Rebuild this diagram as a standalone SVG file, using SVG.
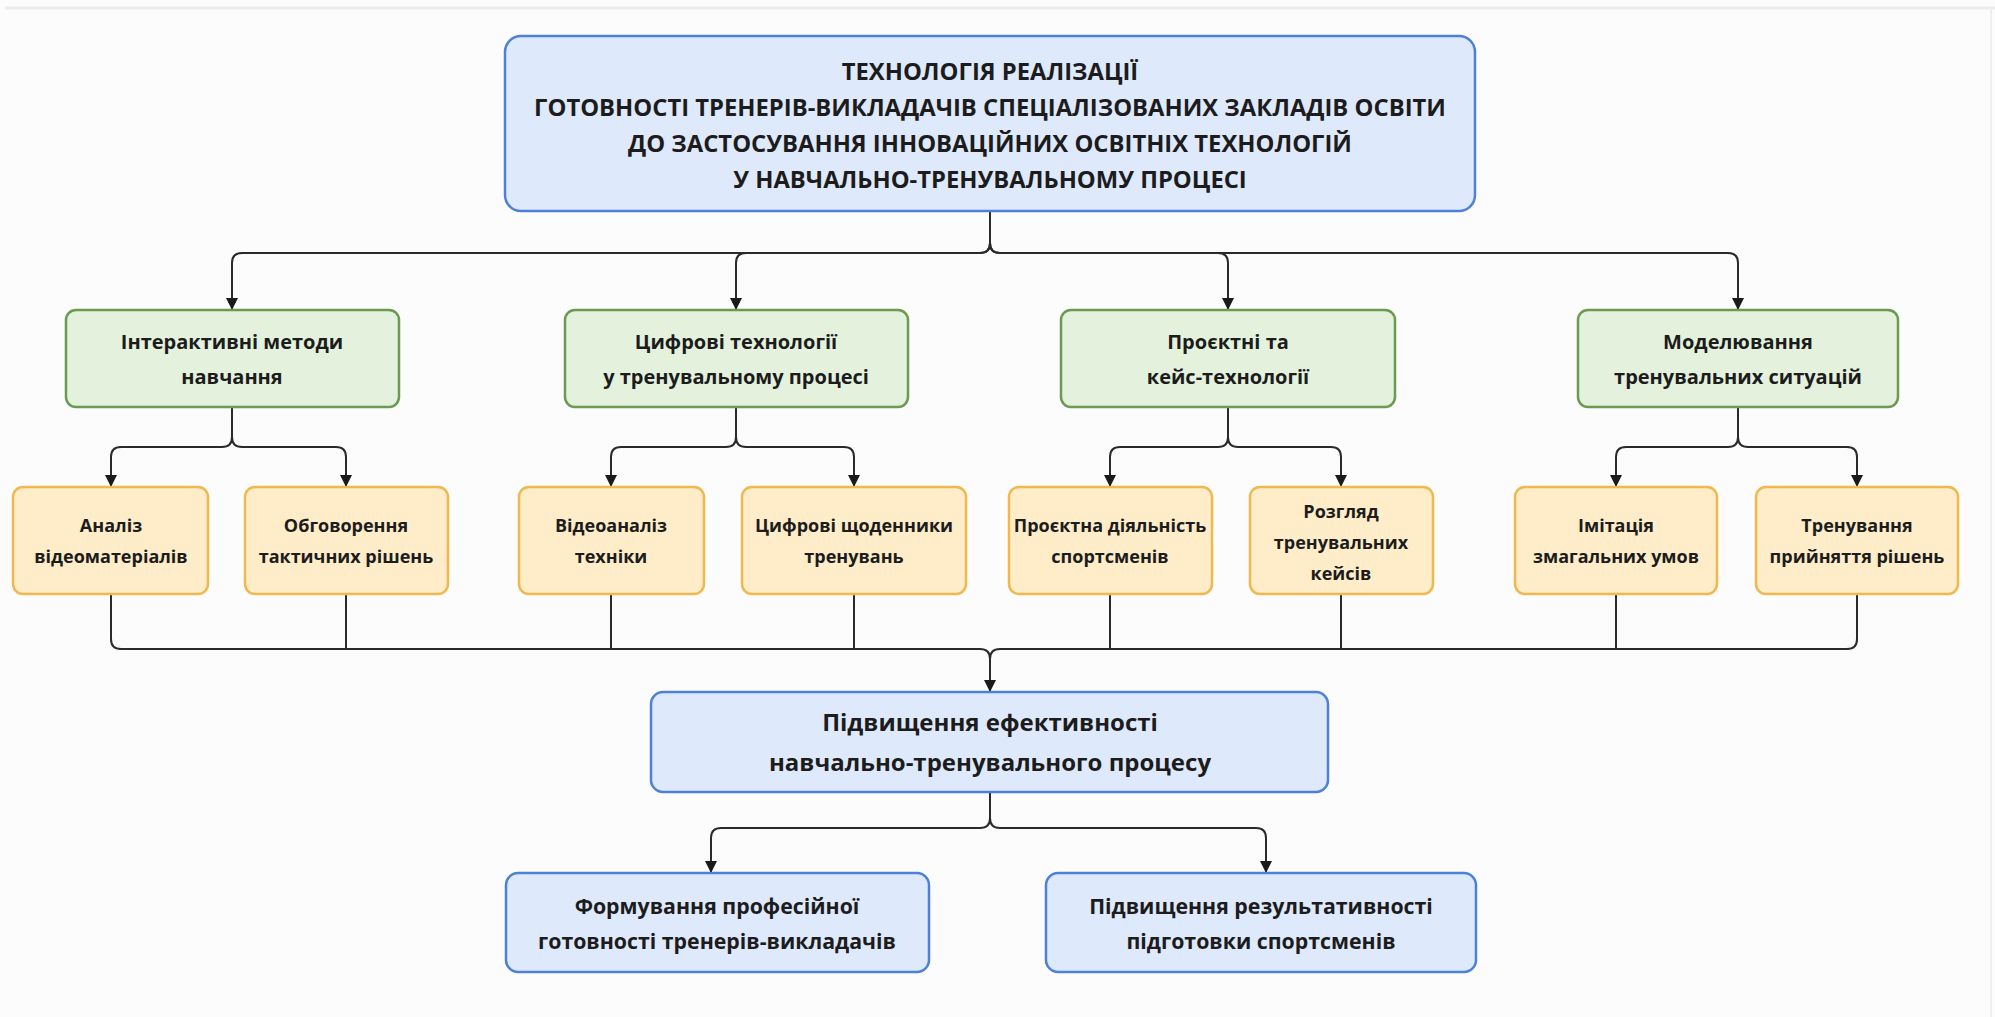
<svg xmlns="http://www.w3.org/2000/svg" width="1995" height="1017" viewBox="0 0 1995 1017">
<defs>
<marker id="arr" viewBox="0 0 12 12" refX="11" refY="6" markerWidth="12" markerHeight="12" markerUnits="userSpaceOnUse" orient="auto">
<path d="M0,0 L12,6 L0,12 Z" fill="#1a1a1a"/>
</marker>
<style>
.blue{fill:#dfe9fc;stroke:#4d80d8;stroke-width:2.5}
.green{fill:#e4f2dd;stroke:#6b9b52;stroke-width:2.5}
.orange{fill:#feedc8;stroke:#f0b84e;stroke-width:2.5}
text{font-family:"Open Sans","Noto Sans","Liberation Sans",sans-serif;font-weight:700;fill:#1c1c1c;text-anchor:middle}
.t1{font-size:23.8px}
.t2{font-size:20px}
.t3{font-size:18px}
.t4{font-size:24px}
.t5{font-size:21.3px}
.c{fill:none;stroke:#2a2a2a;stroke-width:2}
.a{marker-end:url(#arr)}
</style>
</defs>
<rect x="0" y="0" width="1995" height="1017" fill="#fcfcfc"/>
<line x1="5" y1="8" x2="1995" y2="8" stroke="#ececec" stroke-width="3"/>
<line x1="1991" y1="8" x2="1991" y2="1017" stroke="#efefef" stroke-width="2"/>

<g id="connectors">
<path class="c a" d="M990,211 V243 Q990,253 980,253 H242 Q232,253 232,263 V309"/>
<path class="c a" d="M990,243 Q990,253 980,253 H746 Q736,253 736,263 V309"/>
<path class="c a" d="M990,243 Q990,253 1000,253 H1218 Q1228,253 1228,263 V309"/>
<path class="c a" d="M990,243 Q990,253 1000,253 H1728 Q1738,253 1738,263 V309"/>
<path class="c a" d="M232,407 V437 Q232,447 222,447 H121 Q111,447 111,457 V486"/>
<path class="c a" d="M232,437 Q232,447 242,447 H336 Q346,447 346,457 V486"/>
<path class="c a" d="M736,407 V437 Q736,447 726,447 H621 Q611,447 611,457 V486"/>
<path class="c a" d="M736,437 Q736,447 746,447 H844 Q854,447 854,457 V486"/>
<path class="c a" d="M1228,407 V437 Q1228,447 1218,447 H1120 Q1110,447 1110,457 V486"/>
<path class="c a" d="M1228,437 Q1228,447 1238,447 H1331 Q1341,447 1341,457 V486"/>
<path class="c a" d="M1738,407 V437 Q1738,447 1728,447 H1626 Q1616,447 1616,457 V486"/>
<path class="c a" d="M1738,437 Q1738,447 1748,447 H1847 Q1857,447 1857,457 V486"/>
<path class="c a" d="M111,594 V639 Q111,649 121,649 H980 Q990,649 990,659 V691"/>
<path class="c" d="M1857,594 V639 Q1857,649 1847,649 H1000 Q990,649 990,659"/>
<path class="c" d="M346,594 V649"/>
<path class="c" d="M611,594 V649"/>
<path class="c" d="M854,594 V649"/>
<path class="c" d="M1110,594 V649"/>
<path class="c" d="M1341,594 V649"/>
<path class="c" d="M1616,594 V649"/>
<path class="c a" d="M990,792 V818 Q990,828 980,828 H721 Q711,828 711,838 V872"/>
<path class="c a" d="M990,818 Q990,828 1000,828 H1256 Q1266,828 1266,838 V872"/>
</g>

<g id="top">
<rect class="blue" x="505" y="36" width="970" height="175" rx="16"/>
<text class="t1" x="990" y="80">ТЕХНОЛОГІЯ РЕАЛІЗАЦІЇ</text>
<text class="t1" x="990" y="116">ГОТОВНОСТІ ТРЕНЕРІВ-ВИКЛАДАЧІВ СПЕЦІАЛІЗОВАНИХ ЗАКЛАДІВ ОСВІТИ</text>
<text class="t1" x="990" y="152">ДО ЗАСТОСУВАННЯ ІННОВАЦІЙНИХ ОСВІТНІХ ТЕХНОЛОГІЙ</text>
<text class="t1" x="990" y="188">У НАВЧАЛЬНО-ТРЕНУВАЛЬНОМУ ПРОЦЕСІ</text>
</g>

<g id="g1">
<rect class="green" x="66" y="310" width="333" height="97" rx="10"/>
<text class="t2" x="232" y="349">Інтерактивні методи</text>
<text class="t2" x="232" y="384">навчання</text>
</g>
<g id="g2">
<rect class="green" x="565" y="310" width="343" height="97" rx="10"/>
<text class="t2" x="736" y="349">Цифрові технології</text>
<text class="t2" x="736" y="384">у тренувальному процесі</text>
</g>
<g id="g3">
<rect class="green" x="1061" y="310" width="334" height="97" rx="10"/>
<text class="t2" x="1228" y="349">Проєктні та</text>
<text class="t2" x="1228" y="384">кейс-технології</text>
</g>
<g id="g4">
<rect class="green" x="1578" y="310" width="320" height="97" rx="10"/>
<text class="t2" x="1738" y="349">Моделювання</text>
<text class="t2" x="1738" y="384">тренувальних ситуацій</text>
</g>

<g id="o1">
<rect class="orange" x="13" y="487" width="195" height="107" rx="10"/>
<text class="t3" x="111" y="532">Аналіз</text>
<text class="t3" x="111" y="563">відеоматеріалів</text>
</g>
<g id="o2">
<rect class="orange" x="245" y="487" width="203" height="107" rx="10"/>
<text class="t3" x="346" y="532">Обговорення</text>
<text class="t3" x="346" y="563">тактичних рішень</text>
</g>
<g id="o3">
<rect class="orange" x="519" y="487" width="185" height="107" rx="10"/>
<text class="t3" x="611" y="532">Відеоаналіз</text>
<text class="t3" x="611" y="563">техніки</text>
</g>
<g id="o4">
<rect class="orange" x="742" y="487" width="224" height="107" rx="10"/>
<text class="t3" x="854" y="532">Цифрові щоденники</text>
<text class="t3" x="854" y="563">тренувань</text>
</g>
<g id="o5">
<rect class="orange" x="1009" y="487" width="203" height="107" rx="10"/>
<text class="t3" x="1110" y="532">Проєктна діяльність</text>
<text class="t3" x="1110" y="563">спортсменів</text>
</g>
<g id="o6">
<rect class="orange" x="1250" y="487" width="183" height="107" rx="10"/>
<text class="t3" x="1341" y="518">Розгляд</text>
<text class="t3" x="1341" y="549">тренувальних</text>
<text class="t3" x="1341" y="580">кейсів</text>
</g>
<g id="o7">
<rect class="orange" x="1515" y="487" width="202" height="107" rx="10"/>
<text class="t3" x="1616" y="532">Імітація</text>
<text class="t3" x="1616" y="563">змагальних умов</text>
</g>
<g id="o8">
<rect class="orange" x="1756" y="487" width="202" height="107" rx="10"/>
<text class="t3" x="1857" y="532">Тренування</text>
<text class="t3" x="1857" y="563">прийняття рішень</text>
</g>

<g id="mid">
<rect class="blue" x="651" y="692" width="677" height="100" rx="12"/>
<text class="t4" x="990" y="731">Підвищення ефективності</text>
<text class="t4" x="990" y="771">навчально-тренувального процесу</text>
</g>

<g id="b1">
<rect class="blue" x="506" y="873" width="423" height="99" rx="12"/>
<text class="t5" x="717" y="914">Формування професійної</text>
<text class="t5" x="717" y="949">готовності тренерів-викладачів</text>
</g>
<g id="b2">
<rect class="blue" x="1046" y="873" width="430" height="99" rx="12"/>
<text class="t5" x="1261" y="914">Підвищення результативності</text>
<text class="t5" x="1261" y="949">підготовки спортсменів</text>
</g>
</svg>
